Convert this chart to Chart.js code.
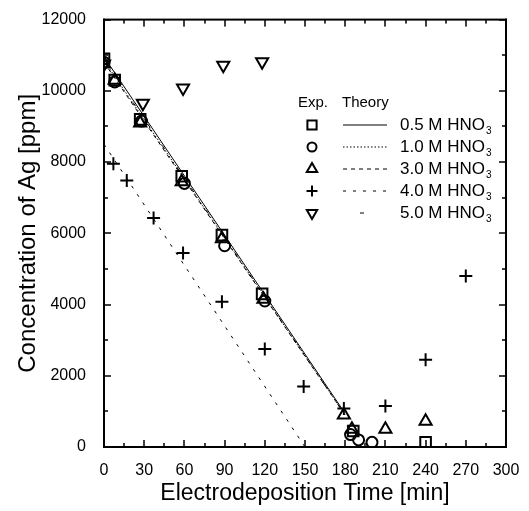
<!DOCTYPE html>
<html>
<head>
<meta charset="utf-8">
<script src="https://cdn.jsdelivr.net/npm/chart.js@4/dist/chart.umd.min.js"></script>
<style>
  html, body { margin: 0; padding: 0; background: #fff; }
  #wrap { width: 529px; height: 511px; }
</style>
</head>
<body>
<div id="wrap"><canvas id="agChart" width="529" height="511"></canvas></div>
<script>
// experimental points [time (min), concentration (ppm)]
const exp05 = [[0, 10900], [8, 10300], [27, 9200], [58, 7600], [88, 5950], [118, 4300], [186, 450], [240, 130]];
const exp10 = [[0, 10800], [8, 10250], [28, 9150], [60, 7400], [90, 5650], [120, 4100], [184, 350], [190, 200], [200, 130]];
const exp30 = [[0, 10750], [8, 10300], [27, 9100], [58, 7450], [88, 5850], [119, 4150], [179, 900], [185, 500], [210, 500], [240, 720]];
const exp40 = [[7, 7950], [17, 7480], [37, 6430], [59, 5450], [88, 4080], [120, 2750], [149, 1700], [179, 1080], [210, 1150], [240, 2450], [270, 4800]];
const exp50 = [[0, 10750], [29, 9650], [59, 10080], [89, 10720], [118, 10820]];

// theory lines (end points)
const th05 = [[0, 10950], [178, 1050]];
const th10 = [[0, 10850], [180, 900]];
const th30 = [[0, 10800], [179, 950]];
const th40 = [[0, 8500], [150, 0]];
const th50 = [[0, 10880], [178, 1000]];

const seriesLabels = ["0.5 M HNO", "1.0 M HNO", "3.0 M HNO", "4.0 M HNO", "5.0 M HNO"];
const xTicks = [0, 30, 60, 90, 120, 150, 180, 210, 240, 270, 300];
const yTicks = [0, 2000, 4000, 6000, 8000, 10000, 12000];

const FONT = "'Liberation Sans', Arial, sans-serif";
const toXY = (arr) => arr.map(p => ({ x: p[0], y: p[1] }));

const markers = [
  { style: "rect", radius: 7.5, rotation: 0 },
  { style: "circle", radius: 5.5, rotation: 0 },
  { style: "triangle", radius: 7, rotation: 0 },
  { style: "cross", radius: 6.5, rotation: 0 },
  { style: "triangle", radius: 7, rotation: 180 }
];
const dashes = [[], [1.5, 2], [4, 4], [3, 7], [4, 22]];
const expData = [exp05, exp10, exp30, exp40, exp50];
const thData = [th05, th10, th30, th40, th50];

const datasets = [];
thData.forEach((d, i) => {
  datasets.push({
    label: seriesLabels[i] + " theory",
    data: toXY(d),
    showLine: true,
    borderColor: "#000",
    borderWidth: 1,
    borderDash: dashes[i],
    pointRadius: 0
  });
});
expData.forEach((d, i) => {
  datasets.push({
    label: seriesLabels[i] + " exp",
    data: toXY(d),
    showLine: false,
    pointStyle: markers[i].style,
    pointRadius: markers[i].radius,
    rotation: markers[i].rotation,
    pointBorderColor: "#000",
    pointBackgroundColor: "rgba(0,0,0,0)",
    pointBorderWidth: 2
  });
});

// box, inward ticks and the Exp./Theory legend
const decor = {
  id: "decor",
  afterDraw(chart) {
    const ctx = chart.ctx;
    const xs = chart.scales.x, ys = chart.scales.y;
    const L = xs.getPixelForValue(0), R = xs.getPixelForValue(300);
    const B = ys.getPixelForValue(0), T = ys.getPixelForValue(12000);
    ctx.save();
    ctx.fillStyle = "#000";
    // frame
    ctx.fillRect(L - 1, T - 1, R - L + 2, 2);
    ctx.fillRect(L - 1, B - 1, R - L + 2, 2);
    ctx.fillRect(L - 1, T - 1, 2, B - T + 2);
    ctx.fillRect(R - 1, T - 1, 2, B - T + 2);
    // ticks
    for (let v = 0; v <= 300; v += 15) {
      const px = Math.round(xs.getPixelForValue(v));
      const len = v % 30 === 0 ? 7 : 4;
      ctx.fillRect(px - 0.75, B - len, 1.5, len);
      ctx.fillRect(px - 0.75, T, 1.5, len);
    }
    for (let v = 0; v <= 12000; v += 1000) {
      const py = Math.round(ys.getPixelForValue(v));
      const len = v % 2000 === 0 ? 7 : 4;
      ctx.fillRect(L, py - 0.75, len, 1.5);
      ctx.fillRect(R - len, py - 0.75, len, 1.5);
    }

    // legend
    const mx = 312, lx0 = 343, lx1 = 387, tx = 400;
    const top = 103, step = 22;
    ctx.textBaseline = "middle";
    ctx.font = "15px " + FONT;
    ctx.fillText("Exp.", 298, top);
    ctx.fillText("Theory", 342, top);
    seriesLabels.forEach((lab, i) => {
      const y = top + step * (i + 1);
      ctx.strokeStyle = "#000";
      ctx.fillStyle = "rgba(0,0,0,0)";
      ctx.lineWidth = 2;
      ctx.setLineDash([]);
      Chart.helpers.drawPoint(ctx, {
        pointStyle: markers[i].style,
        radius: markers[i].radius - 1,
        rotation: markers[i].rotation,
        borderWidth: 2
      }, mx, y);
      ctx.lineWidth = 1;
      ctx.setLineDash(dashes[i]);
      ctx.beginPath();
      if (i === 4) { ctx.moveTo(360, y); ctx.lineTo(365, y); }
      else { ctx.moveTo(lx0, y); ctx.lineTo(lx1, y); }
      ctx.stroke();
      ctx.setLineDash([]);
      ctx.fillStyle = "#000";
      ctx.font = "17px " + FONT;
      ctx.fillText(lab, tx, y);
      const w = ctx.measureText(lab).width;
      ctx.font = "10px " + FONT;
      ctx.fillText("3", tx + w + 1, y + 6);
    });
    ctx.restore();
  }
};

new Chart(document.getElementById("agChart"), {
  type: "scatter",
  data: { datasets },
  options: {
    responsive: false,
    animation: false,
    layout: { padding: { top: 12, right: 23, left: 0, bottom: 0 } },
    plugins: { legend: { display: false }, tooltip: { enabled: false } },
    scales: {
      x: {
        type: "linear",
        min: 0,
        max: 300,
        afterBuildTicks: (s) => { s.ticks = xTicks.map(v => ({ value: v })); },
        afterFit: (s) => { s.height = 64; },
        grid: { display: false },
        border: { display: true, color: "#000", width: 2 },
        ticks: { color: "#000", font: { family: FONT, size: 16 }, padding: 6, maxRotation: 0, callback: (v) => v },
        title: { display: true, text: "Electrodeposition Time [min]", color: "#000", font: { family: FONT, size: 23 }, padding: { top: 2 } }
      },
      y: {
        type: "linear",
        min: 0,
        max: 12000,
        afterBuildTicks: (s) => { s.ticks = yTicks.map(v => ({ value: v })); },
        afterFit: (s) => { s.width = 104; },
        grid: { display: false },
        border: { display: true, color: "#000", width: 2 },
        ticks: { color: "#000", font: { family: FONT, size: 16 }, padding: 10, callback: (v) => v },
        title: { display: true, text: "Concentration of Ag [ppm]", color: "#000", font: { family: FONT, size: 24 }, padding: { top: 14, bottom: 2 } }
      }
    }
  },
  plugins: [decor]
});
</script>
</body>
</html>
